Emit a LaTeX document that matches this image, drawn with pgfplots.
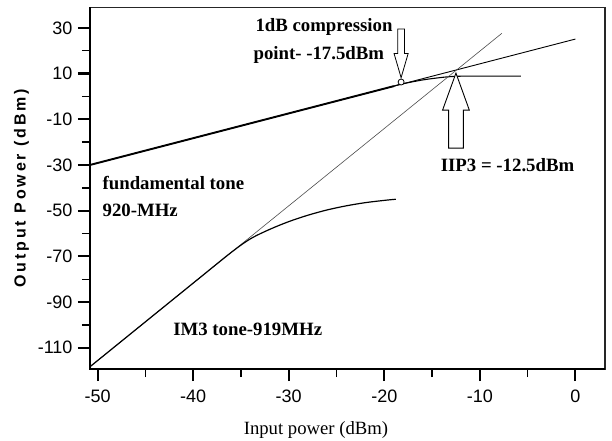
\documentclass[border=0pt]{standalone}
\usepackage{pgfplots}
\pgfplotsset{compat=1.18}
\usepackage{fontspec}
\setmainfont{Liberation Serif}
\setsansfont{Liberation Sans}
\newfontfamily\ylabfont[LetterSpace=18]{Liberation Sans}
\begin{document}
\begin{tikzpicture}
\begin{axis}[
  scale only axis, width=515pt, height=361.7pt,
  xmin=-50.8, xmax=3.1, ymin=-119.3, ymax=39,
  axis line style={line width=1.3pt, black!85},
  xtick={-50,-40,...,0}, minor xtick={-45,-35,...,-5},
  ytick={-110,-90,...,30}, minor ytick={-100,-80,...,20},
  tick align=outside, xtick pos=bottom, ytick pos=left,
  major tick length=12pt, minor tick length=8pt,
  major tick style={line width=2.2pt, black},
  minor tick style={line width=1.4pt, black},
  tick label style={font=\sffamily\fontsize{18}{18}\selectfont},
  xticklabel style={yshift=-5pt},
  yticklabel style={xshift=-2pt},
  /pgf/number format/assume math mode=true,
  clip=false,
]
% fundamental extrapolated
\addplot[black, line width=0.9pt] coordinates {(-50.8,-30) (0,25.1)};
% fundamental actual (linear part)
\addplot[black, line width=1.9pt] coordinates {(-50.8,-30) (-19,4.5)};
% compression
\addplot[black, line width=1.1pt, smooth, tension=0.5] coordinates {(-19,4.5) (-18.2,5.4) (-16,7.2) (-14,8.3) (-12.5,8.8) (-10,8.9) (-5.7,8.9)};
% IM3 extrapolated
\addplot[black!70, line width=0.6pt] coordinates {(-50.8,-118.3) (-7.7,27.6)};
% IM3 actual
\addplot[black, line width=1.2pt, smooth, tension=0.5] coordinates {(-50.8,-118.3) (-40,-81.7) (-36,-68.2) (-34,-62.3) (-32,-58.2) (-30,-54.8) (-28,-52) (-26,-49.7) (-24,-47.9) (-22,-46.5) (-20,-45.5) (-18.8,-45)};

% heavier left and bottom axis lines
\draw[black, line width=2.6pt] (rel axis cs:0,1) -- (rel axis cs:0,0) -- (rel axis cs:1,0);

% hollow arrows
\draw[black, line width=0.8pt, fill=white] (axis cs:-18.6,29.5) -- (axis cs:-17.88,29.5) -- (axis cs:-17.88,18.8) -- (axis cs:-17.5,18.8) -- (axis cs:-18.24,8.2) -- (axis cs:-18.98,18.8) -- (axis cs:-18.6,18.8) -- cycle;
\draw[black, line width=0.8pt, fill=white] (axis cs:-18.24,6.3) circle[radius=3pt];
\draw[black, line width=0.9pt, fill=white] (axis cs:-13.27,-22.6) -- (axis cs:-11.73,-22.6) -- (axis cs:-11.73,-6) -- (axis cs:-11.1,-6) -- (axis cs:-12.5,10.2) -- (axis cs:-13.9,-6) -- (axis cs:-13.27,-6) -- cycle;

\node[anchor=west, font=\bfseries\fontsize{18.8}{20}\selectfont, inner sep=0pt] at (axis cs:-33.5,30.3) {1dB compression};
\node[anchor=west, font=\bfseries\fontsize{18.8}{20}\selectfont, inner sep=0pt] at (axis cs:-33.7,18.1) {point- -17.5dBm};
\node[anchor=west, font=\bfseries\fontsize{18.8}{20}\selectfont, inner sep=0pt] at (axis cs:-14.1,-30) {IIP3 = -12.5dBm};
\node[anchor=west, font=\bfseries\fontsize{18.8}{20}\selectfont, inner sep=0pt] at (axis cs:-49.5,-37.9) {fundamental tone};
\node[anchor=west, font=\bfseries\fontsize{18.8}{20}\selectfont, inner sep=0pt] at (axis cs:-49.5,-49.7) {920-MHz};
\node[anchor=west, font=\bfseries\fontsize{18.8}{20}\selectfont, inner sep=0pt] at (axis cs:-42.1,-101.8) {IM3 tone-919MHz};
\end{axis}
\node[rotate=90, font=\ylabfont\bfseries\fontsize{16}{16}\selectfont] at ([xshift=-68.5pt]current axis.west) {Output Power (dBm)};
\node[font=\fontsize{18.7}{20}\selectfont] at ([xshift=-31.5pt, yshift=-61pt]current axis.south) {Input power (dBm)};
\pgfresetboundingbox
\path ([shift={(-90pt,-71pt)}]current axis.south west) rectangle ([shift={(7pt,7.3pt)}]current axis.north east);
\end{tikzpicture}
\end{document}
